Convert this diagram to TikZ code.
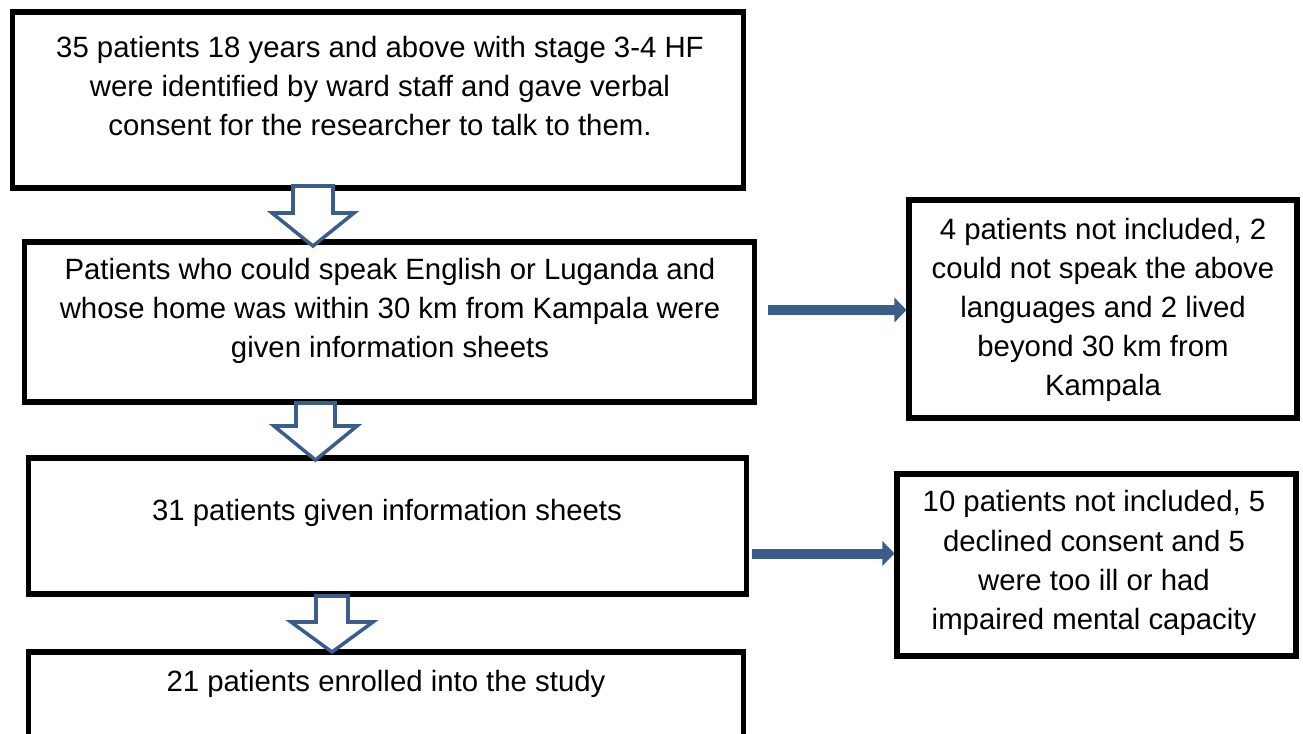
\documentclass[tikz,border=0pt]{standalone}
\usepackage{fontspec}
\setmainfont{Liberation Sans}
\usetikzlibrary{arrows.meta}
\definecolor{flowblue}{HTML}{3A5E8C}

\begin{document}
\begin{tikzpicture}[x=0.02cm, y=-0.02cm, font=\fontsize{16.7}{22.3}\selectfont,
  box/.style={draw, rectangle, line width=2.9pt, inner sep=0pt},
  txt/.style={align=center, inner sep=0pt},
  hollow/.style={draw=flowblue, fill=white, line width=2pt},
  side/.style={flowblue, line width=0.2cm, -{Triangle[length=0.24cm, width=0.48cm]}}]
  \useasboundingbox (0,0) rectangle (1303,734);
  \clip (0,0) rectangle (1303,734);

  % main column
  \node[box, minimum width=14.64cm, minimum height=3.52cm] (identified) at (378,100) {};
  \node[txt] (identified-txt) at (380,86) {35 patients 18 years and above with stage 3-4 HF\\were identified by ward staff and gave verbal\\consent for the researcher to talk to them.};
  \node[box, minimum width=14.62cm, minimum height=3.2cm] (screened) at (389.5,322) {};
  \node[txt] (screened-txt) at (390,311) {Patients who could speak English or Luganda and\\whose home was within 30 km from Kampala were\\given information sheets};
  \node[box, minimum width=14.38cm, minimum height=2.72cm] (informed) at (387.5,526) {};
  \node[txt] (informed-txt) at (387,513) {31 patients given information sheets};
  \node[box, minimum width=14.32cm, minimum height=2.16cm] (enrolled) at (386,706) {};
  \node[txt] (enrolled-txt) at (386,684) {21 patients enrolled into the study};

  % excluded
  \node[box, minimum width=7.76cm, minimum height=4.36cm] (notincl) at (1103,309) {};
  \node[txt] (notincl-txt) at (1103,310) {4 patients not included, 2\\could not speak the above\\languages and 2 lived\\beyond 30 km from\\Kampala};
  \node[box, minimum width=7.98cm, minimum height=3.64cm] (declined) at (1096.5,565) {};
  \node[txt] (declined-txt) at (1094,563) {10 patients not included, 5\\declined consent and 5\\were too ill or had\\impaired mental capacity};

  % hollow arrows
  \coordinate (d1) at (313,186);
  \draw[hollow] (d1) ++(-20,0) -- ++(0,27) -- ++(-21,0) -- ++(41,33) -- ++(41,-33) -- ++(-21,0) -- ++(0,-27) -- cycle;
  \coordinate (d2) at (315.5,403);
  \draw[hollow] (d2) ++(-19.5,0) -- ++(0,23) -- ++(-22,0) -- ++(41.5,34) -- ++(41.5,-34) -- ++(-22,0) -- ++(0,-23) -- cycle;
  \coordinate (d3) at (332,596);
  \draw[hollow] (d3) ++(-16,0) -- ++(0,26) -- ++(-25,0) -- ++(41,30) -- ++(41,-30) -- ++(-25,0) -- ++(0,-26) -- cycle;

  % side arrows
  \coordinate (s1) at (768,310);
  \draw[side] (s1) -- (s1 -| notincl.west);
  \coordinate (s2) at (752,553.5);
  \draw[side] (s2) -- (s2 -| declined.west);
\end{tikzpicture}
\end{document}
